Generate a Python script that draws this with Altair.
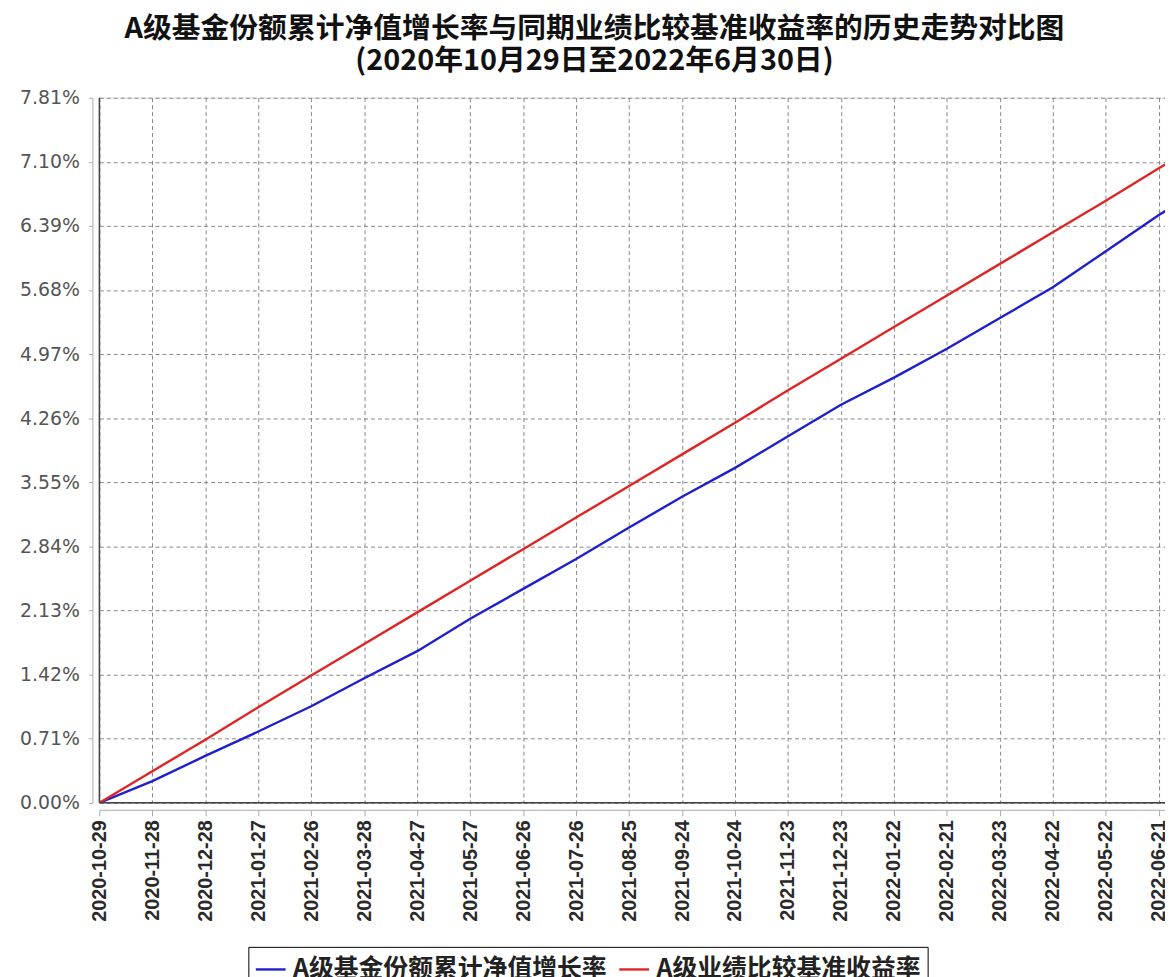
import altair as alt
import pandas as pd

dates = ["2020/10/29", "2020/11/28", "2020/12/28", "2021/01/27", "2021/02/26", "2021/03/28",
         "2021/04/27", "2021/05/27", "2021/06/26", "2021/07/26", "2021/08/25", "2021/09/24",
         "2021/10/24", "2021/11/23", "2021/12/23", "2022/01/22", "2022/02/21", "2022/03/23",
         "2022/04/22", "2022/05/22", "2022/06/21", "2022/06/30"]
fund = [0.00, 0.24, 0.52, 0.79, 1.07, 1.38, 1.68, 2.04, 2.37, 2.70, 3.05, 3.39,
        3.71, 4.06, 4.41, 4.71, 5.03, 5.37, 5.71, 6.11, 6.51, 6.62]
bench = [0.00, 0.35, 0.70, 1.06, 1.41, 1.76, 2.11, 2.46, 2.81, 3.16, 3.51, 3.86,
         4.21, 4.57, 4.92, 5.27, 5.62, 5.97, 6.32, 6.67, 7.03, 7.13]
series_names = ["A级基金份额累计净值增长率", "A级业绩比较基准收益率"]
series_colors = ["#1f1fd0", "#e02424"]
y_ticks = [0.00, 0.71, 1.42, 2.13, 2.84, 3.55, 4.26, 4.97, 5.68, 6.39, 7.10, 7.81]
x_tick_dates = dates[:-1]
title_lines = ["A级基金份额累计净值增长率与同期业绩比较基准收益率的历史走势对比图",
               "(2020年10月29日至2022年6月30日)"]

rows = []
for d, f, b in zip(dates, fund, bench):
    rows.append({"date": d, "value": f, "series": series_names[0]})
    rows.append({"date": d, "value": b, "series": series_names[1]})
df = pd.DataFrame(rows)


def dt(s):
    y, m, d = s.split("/")
    return alt.DateTime(year=int(y), month=int(m), date=int(d))


x_values = [dt(s) for s in x_tick_dates]

lines = alt.Chart(df).mark_line(strokeWidth=2.4, clip=True).encode(
    x=alt.X("date:T",
            scale=alt.Scale(domain=[dt("2020/10/29"),
                                    alt.DateTime(year=2022, month=6, date=24, hours=12)]),
            axis=alt.Axis(values=x_values, format="%Y-%m-%d", labelAngle=-90, title=None,
                          labelFont="Liberation Sans", labelFontSize=20, labelColor="#2a2a2a",
                          labelFontWeight="bold",
                          grid=True, gridDash=[4, 3], gridColor="#888", gridWidth=1,
                          offset=7, domainColor="#aaa", tickColor="#aaa", tickSize=6,
                          labelPadding=4, labelOverlap=False, labelBound=False,
                          labelFlush=False)),
    y=alt.Y("value:Q",
            scale=alt.Scale(domain=[0, 7.81], nice=False, zero=True),
            axis=alt.Axis(values=y_ticks, labelExpr="format(datum.value, '.2f') + '%'",
                          title=None, labelFont="DejaVu Sans", labelFontSize=19,
                          labelColor="#555", grid=True, gridDash=[4, 3], gridColor="#888",
                          gridWidth=1, offset=7, domainColor="#aaa", tickColor="#aaa",
                          tickSize=4, labelPadding=9)),
    color=alt.Color("series:N",
                    scale=alt.Scale(domain=series_names, range=series_colors),
                    sort=series_names,
                    legend=alt.Legend(title=None, orient="none", legendX=150, legendY=855,
                                      direction="horizontal", strokeColor="#000",
                                      padding=6, symbolType="stroke", symbolSize=900,
                                      symbolStrokeWidth=2.4, labelFontSize=25,
                                      labelFont="Noto Sans CJK SC", labelFontWeight="bold",
                                      labelColor="#222",
                                      labelLimit=0, columnPadding=6, labelOffset=6)),
)

left_border = alt.Chart().mark_rule(color="#444", strokeWidth=1.5).encode(
    x=alt.value(0), y=alt.value(0), y2=alt.value(710))
bottom_border = alt.Chart().mark_rule(color="#444", strokeWidth=1.5).encode(
    y=alt.value(710), x=alt.value(0), x2=alt.value(1073))

chart = alt.layer(lines, left_border, bottom_border).properties(
    width=1073, height=710,
    autosize=alt.AutoSizeParams(type="none"),
    padding={"left": 92, "top": 87, "right": 0, "bottom": 172},
    title=alt.TitleParams(text=title_lines, fontSize=29, font="Noto Sans CJK SC",
                          fontWeight="bold", color="#111", anchor="middle", dx=-38,
                          offset=13, lineHeight=32),
).configure_view(stroke=None).configure(background="white")

chart.save("out.html", embed_options={"renderer": "svg", "actions": False})
